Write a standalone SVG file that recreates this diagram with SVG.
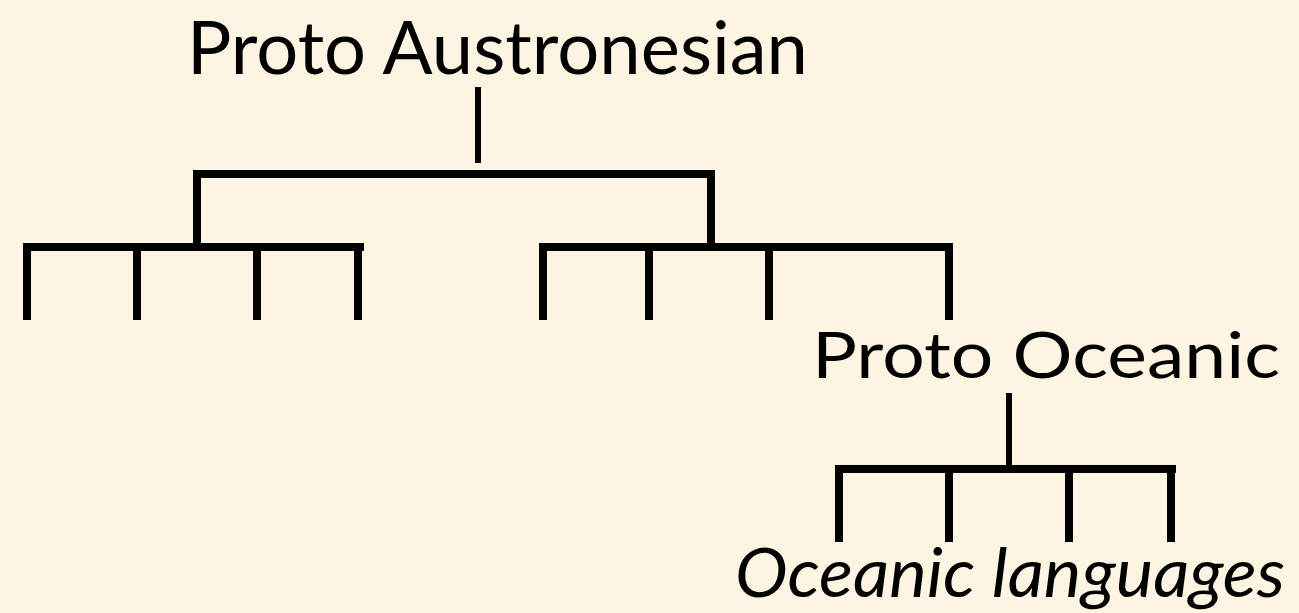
<svg xmlns="http://www.w3.org/2000/svg" width="1299" height="613" viewBox="0 0 1299 613">
<style>
.t{font-family:Lato,"Open Sans","Liberation Sans",sans-serif;fill:#000}
.c line{stroke:#000;stroke-width:8;stroke-linecap:square}
.c line.thin{stroke-width:6}
</style>
<rect width="1299" height="613" fill="#fdf5e2"/>
<g id="proto-austronesian"><text class="t" x="187" y="74" font-size="74" textLength="621" lengthAdjust="spacingAndGlyphs">Proto Austronesian</text></g>
<g id="proto-oceanic"><text class="t" x="812" y="378" font-size="64" textLength="468" lengthAdjust="spacingAndGlyphs">Proto Oceanic</text></g>
<g id="oceanic-languages"><text class="t" x="735" y="597" font-size="68" font-style="italic" textLength="550" lengthAdjust="spacingAndGlyphs">Oceanic languages</text></g>
<g class="c" id="connectors">
<line class="thin" x1="478" y1="90" x2="478" y2="160"/>
<line x1="197" y1="174" x2="711" y2="174"/>
<line x1="197" y1="174" x2="197" y2="244"/>
<line x1="711" y1="174" x2="711" y2="244"/>
<line x1="27" y1="247" x2="360" y2="247"/>
<line x1="27" y1="247" x2="27" y2="316"/>
<line x1="137" y1="247" x2="137" y2="316"/>
<line x1="257" y1="247" x2="257" y2="316"/>
<line x1="358" y1="247" x2="358" y2="316"/>
<line x1="543" y1="247" x2="949" y2="247"/>
<line x1="543" y1="247" x2="543" y2="316"/>
<line x1="649" y1="247" x2="649" y2="316"/>
<line x1="769" y1="247" x2="769" y2="316"/>
<line x1="949" y1="247" x2="949" y2="316"/>
<line class="thin" x1="1009" y1="396" x2="1009" y2="464"/>
<line x1="839" y1="469" x2="1172" y2="469"/>
<line x1="839" y1="469" x2="839" y2="538"/>
<line x1="949" y1="469" x2="949" y2="538"/>
<line x1="1069" y1="469" x2="1069" y2="538"/>
<line x1="1171" y1="469" x2="1171" y2="538"/>
</g>
</svg>
